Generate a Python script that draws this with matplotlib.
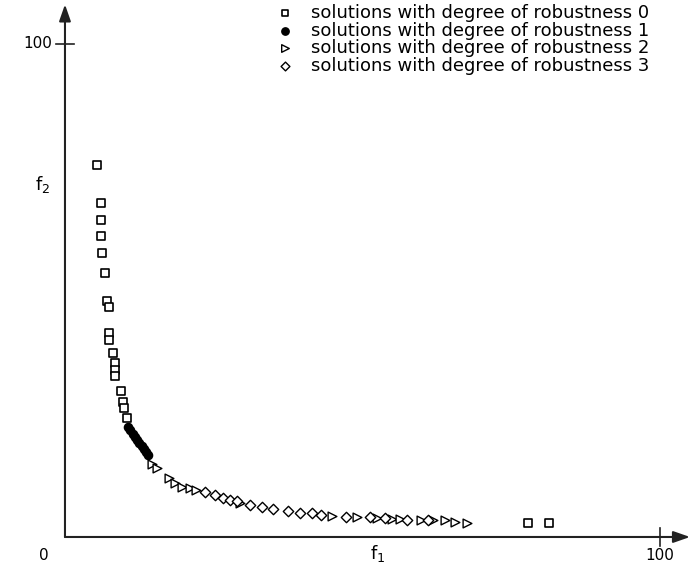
import matplotlib.pyplot as plt

# robustness degree 0 (open squares)
sq_f1 = [5.4, 6.0, 6.0, 6.0, 6.3, 6.7, 7.0, 7.4, 7.4, 7.4, 8.0, 8.4, 8.4, 8.4,
         9.4, 9.7, 10.0, 10.4, 77.8, 81.4]
sq_f2 = [75.5, 67.8, 64.2, 61.1, 57.5, 53.5, 47.9, 46.7, 41.3, 40.0, 37.3, 35.2,
         33.9, 32.7, 29.7, 27.4, 26.1, 24.1, 2.8, 2.8]

# robustness degree 1 (filled circles)
dot_f1 = [10.6, 11.0, 11.4, 11.8, 12.1, 12.5, 12.9, 13.3, 13.7, 14.0]
dot_f2 = [22.4, 21.6, 20.9, 20.2, 19.6, 19.0, 18.4, 17.8, 17.2, 16.6]

# robustness degree 2 (right triangles)
tri_f1 = [14.6, 15.4, 17.4, 18.5, 19.6, 21.0, 22.1, 29.4, 44.8, 49.0, 52.4,
          54.9, 56.3, 59.9, 61.9, 63.9, 65.5, 67.5]
tri_f2 = [14.9, 13.9, 11.9, 10.9, 10.2, 9.9, 9.5, 6.8, 4.3, 4.1, 3.8,
          3.6, 3.6, 3.4, 3.4, 3.4, 3.1, 2.9]

# robustness degree 3 (open diamonds)
dia_f1 = [23.5, 25.2, 26.6, 27.7, 28.9, 31.1, 33.1, 35.0, 37.5, 39.5, 41.5,
          43.1, 47.3, 51.3, 53.8, 57.4, 61.0]
dia_f2 = [9.2, 8.5, 8.0, 7.6, 7.2, 6.5, 6.1, 5.6, 5.3, 4.9, 4.9,
          4.5, 4.1, 4.0, 3.8, 3.4, 3.4]

labels = ["solutions with degree of robustness 0",
          "solutions with degree of robustness 1",
          "solutions with degree of robustness 2",
          "solutions with degree of robustness 3"]

W, H = 690, 579
fig = plt.figure(figsize=(W / 100, H / 100), dpi=100)
ax = fig.add_axes([0, 0, 1, 1])
ax.set_xlim(-10.92, 105.04)
ax.set_ylim(-8.52, 108.9)
ax.axis("off")

# axes with arrow heads
ax.annotate("", xy=(105.04, 0), xytext=(0, 0),
            arrowprops=dict(arrowstyle="-|>,head_length=1.0,head_width=0.35",
                            color="#222222", lw=1.5, shrinkA=0, shrinkB=0))
ax.annotate("", xy=(0, 108.0), xytext=(0, 0),
            arrowprops=dict(arrowstyle="-|>,head_length=1.0,head_width=0.35",
                            color="#222222", lw=1.5, shrinkA=0, shrinkB=0))
ax.plot([100, 100], [-1.8, 1.8], color="#222222", lw=1.2)
ax.plot([-1.5, 1.5], [100, 100], color="#222222", lw=1.2)

fs = 11
ax.text(-3.5, -2.2, "0", fontsize=fs, ha="center", va="top")
ax.text(100, -2.2, "100", fontsize=fs, ha="center", va="top")
ax.text(-2.2, 100, "100", fontsize=fs, ha="right", va="center")
ax.text(52.5, -1.2, "f$_1$", fontsize=13, ha="center", va="top")
ax.text(-3.8, 71.5, "f$_2$", fontsize=13, ha="center", va="center")

ax.scatter(sq_f1, sq_f2, marker="s", s=30, facecolors="white", edgecolors="black",
           linewidths=1.2, zorder=3)
ax.scatter(dot_f1, dot_f2, marker="o", s=35, color="black", zorder=4)
ax.scatter(tri_f1, tri_f2, marker=">", s=40, facecolors="white", edgecolors="black",
           linewidths=1.0, zorder=3)
ax.scatter(dia_f1, dia_f2, marker="D", s=28, facecolors="white", edgecolors="black",
           linewidths=1.0, zorder=3)

# legend drawn by hand (pixel rows from the top)
rows = [13.3, 30.7, 48.3, 66.0]
styles = [dict(marker="s", s=22, facecolors="white", edgecolors="black", linewidths=1.2),
          dict(marker="o", s=28, color="black"),
          dict(marker=">", s=30, facecolors="white", edgecolors="black", linewidths=1.0),
          dict(marker="D", s=20, facecolors="white", edgecolors="black", linewidths=1.0)]
for r, st, lab in zip(rows, styles, labels):
    y = 1 - r / H
    ax.scatter([285 / W], [y], transform=ax.transAxes, clip_on=False, **st)
    ax.text(311 / W, y, lab, transform=ax.transAxes, fontsize=13,
            ha="left", va="center")

fig.savefig("out.png", dpi=100)
